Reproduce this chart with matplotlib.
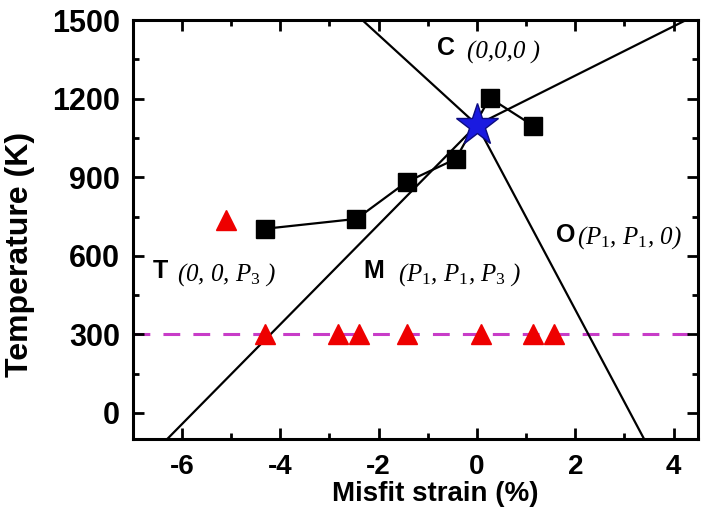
import matplotlib
matplotlib.use('Agg')
import matplotlib.pyplot as plt
from matplotlib.ticker import MultipleLocator

plt.rcParams['font.family'] = ['Liberation Sans', 'DejaVu Sans']
plt.rcParams['mathtext.fontset'] = 'custom'
plt.rcParams['mathtext.rm'] = 'Liberation Serif'
plt.rcParams['mathtext.it'] = 'Liberation Serif:italic'
plt.rcParams['mathtext.bf'] = 'Liberation Serif:bold'
plt.rcParams['axes.unicode_minus'] = False

# phase boundaries (two kinked lines through the multiphase point)
bound1_x = [-6.3, 0.0, 4.25]
bound1_t = [-100, 1100, 1500]
bound2_x = [-2.33, 0.0, 3.4]
bound2_t = [1500, 1100, -100]

# black squares (connected)
sq_x = [-4.32, -2.45, -1.43, -0.43, 0.26, 1.15]
sq_t = [703, 741, 882, 970, 1203, 1096]

# red triangles
tri_x = [-5.11, -4.32, -2.83, -2.4, -1.43, 0.08, 1.14, 1.57]
tri_t = [738, 300, 300, 300, 300, 300, 300, 300]

# multiphase point
star_x = [0.0]
star_t = [1100]

room_t = 300

fig = plt.figure(figsize=(7.06, 5.16), dpi=100)
ax = fig.add_axes([0.188, 0.149, 0.801, 0.812])

ax.plot(bound1_x, bound1_t, color='black', lw=1.6, zorder=2)
ax.plot(bound2_x, bound2_t, color='black', lw=1.6, zorder=2)
ax.axhline(room_t, color='#c83cc8', lw=2.2, ls=(0, (5.5, 4.3)), zorder=1)
ax.plot(sq_x, sq_t, color='black', lw=1.6, marker='s', ms=12.5, zorder=3)
ax.plot(tri_x, tri_t, ls='none', marker='^', ms=14, color='#ee0000',
        markeredgecolor='#ee0000', zorder=4)
ax.plot(star_x, star_t, ls='none', marker='*', ms=32, color='#1a1ae0',
        markeredgecolor='#0c0c80', markeredgewidth=1, zorder=5)

# phase labels: bold letter + italic order parameters
bold = dict(fontsize=18, fontweight='bold', va='center', ha='left')
ital = dict(fontsize=18, va='center', ha='left', family='Liberation Serif', style='italic')
ax.text(-0.81, 1393, 'C', **bold)
ax.text(-0.2, 1375, '(0,0,0 )', **ital)
ax.text(1.6, 680, 'O', **bold)
ax.text(2.03, 670, r'($P_1$, $P_1$, 0)', **ital)
ax.text(-6.6, 542, 'T', **bold)
ax.text(-6.1, 528, r'(0, 0, $P_3$ )', **ital)
ax.text(-2.3, 542, 'M', **bold)
ax.text(-1.6, 528, r'($P_1$, $P_1$, $P_3$ )', **ital)

ax.set_xlim(-7, 4.5)
ax.set_ylim(-100, 1500)
ax.xaxis.set_major_locator(MultipleLocator(2))
ax.xaxis.set_minor_locator(MultipleLocator(1))
ax.yaxis.set_major_locator(MultipleLocator(300))
ax.yaxis.set_minor_locator(MultipleLocator(150))
ax.tick_params(which='both', direction='in', top=True, right=True, width=2)
ax.tick_params(which='major', length=8)
ax.tick_params(which='minor', length=4)
ax.tick_params(axis='x', which='major', pad=11, labelsize=20)
ax.tick_params(axis='y', which='major', pad=9, labelsize=22)
for lab in ax.get_xticklabels() + ax.get_yticklabels():
    lab.set_fontweight('bold')
for sp in ax.spines.values():
    sp.set_linewidth(2.2)

ax.set_xlabel('Misfit strain (%)', fontsize=20, fontweight='bold')
ax.set_ylabel('Temperature (K)', fontsize=23, fontweight='bold')
ax.xaxis.set_label_coords(0.535, -0.1)
ax.yaxis.set_label_coords(-0.172, 0.44)

fig.savefig('out.png', dpi=100)
